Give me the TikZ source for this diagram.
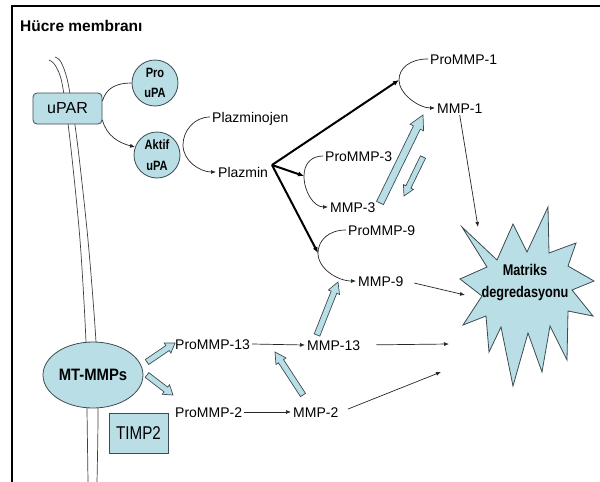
\documentclass[tikz,border=0pt]{standalone}
\usepackage{fontspec}
\setmainfont{Liberation Sans}
\newfontfamily\condA[FakeStretch=0.9]{Liberation Sans}
\newfontfamily\condB[FakeStretch=0.82]{Liberation Sans}
\usetikzlibrary{arrows.meta,calc,shapes.geometric}
\definecolor{lb}{RGB}{185,222,230}
\definecolor{edgec}{RGB}{60,76,82}
\tikzset{
  lbl/.style={font=\fontsize{14}{16}\selectfont, inner sep=2pt, text height=10pt, text depth=0pt, anchor=base west},
  box/.style={draw=edgec, fill=lb, line width=0.8pt, inner sep=0pt},
  circ/.style={circle, draw=edgec, fill=lb, line width=0.8pt, minimum size=46pt, inner sep=0pt, align=center},
  thinline/.style={line width=0.7pt, black!85},
  thinarrow/.style={line width=0.7pt, black!85, -{Latex[length=5pt,width=4pt]}},
  thickarrow/.style={line width=2pt, black, -{Latex[length=6pt,width=5pt]}},
  barrow/.style={fill=lb, draw=edgec, line width=0.7pt, line join=miter},
  memb/.style={line width=0.7pt, black!75},
}
\newcommand\blkarrow[5]{%
  \coordinate (bh) at ($(#2)!#5!(#1)$);
  \filldraw[barrow] ($(#1)!#3!90:(#2)$) -- ($(bh)!#3!90:(#2)$) -- ($(bh)!#4!90:(#2)$) -- (#2) -- ($(bh)!#4!-90:(#2)$) -- ($(bh)!#3!-90:(#2)$) -- ($(#1)!#3!-90:(#2)$) -- cycle;}
\begin{document}
\begin{tikzpicture}[x=1pt,y=-1pt]
\useasboundingbox (0,0) rectangle (600,482);
\fill[white] (0,0) rectangle (600,482);
% frame
\draw[line width=2.4pt] (12,482) -- (12,6) -- (600,6);
% membrane
\draw[memb] plot[smooth] coordinates {(49,60) (55,65) (62,83) (70,140) (80,240) (86,342) (87,410) (88,482)};
\draw[memb] plot[smooth] coordinates {(55,57) (61,62) (68,83) (77,140) (88,240) (96,342) (98,410) (97,482)};
% title
\node[anchor=base west, font=\bfseries\fontsize{15.5}{17}\selectfont, inner sep=0pt] (title) at (20,31) {Hücre membranı};
% nodes
\node[box, rounded corners=4pt, minimum width=69pt, minimum height=31pt, font=\fontsize{16}{18}\selectfont] (upar) at (67.5,108.5) {uPAR};
\node[circ, font=\condB\bfseries\fontsize{13.5}{20}\selectfont] (proupa) at (155,83) {Pro\\uPA};
\node[circ, font=\condB\bfseries\fontsize{13.5}{21}\selectfont] (aktif) at (157,155) {Aktif\\uPA};
\node[ellipse, draw=edgec, fill=lb, line width=0.8pt, minimum width=100pt, minimum height=66pt, inner sep=0pt, font=\condA\bfseries\fontsize{16.5}{18}\selectfont] (mt) at (93,375) {MT-MMPs};
\node[box, minimum width=59pt, minimum height=40pt, font=\condB\fontsize{18.5}{20}\selectfont] (timp) at (138.5,433) {TIMP2};
% labels
\node[lbl] (plg) at (210,122) {Plazminojen};
\node[lbl] (plz) at (216,177) {Plazmin};
\node[lbl] (p1) at (428,64) {ProMMP-1};
\node[lbl] (m1) at (435,113) {MMP-1};
\node[lbl] (p3) at (323,161) {ProMMP-3};
\node[lbl] (m3) at (328,212) {MMP-3};
\node[lbl] (p9) at (346,235) {ProMMP-9};
\node[lbl] (m9) at (356,286) {MMP-9};
\node[lbl] (p13) at (173,349) {ProMMP-13};
\node[lbl] (m13) at (305,350) {MMP-13};
\node[lbl] (p2) at (173,417) {ProMMP-2};
\node[lbl] (m2) at (291,417) {MMP-2};
% star
\draw[fill=lb, draw=edgec, line width=0.8pt, line join=miter]
  (462,227) -- (497,260) -- (513,224) -- (527,252) -- (548,207) -- (549,253)
  -- (576,243) -- (568,266) -- (594,281) -- (572,290) -- (593,316) -- (568,311)
  -- (567,360) -- (550,326) -- (542,372) -- (528,333) -- (513,386) -- (501,327)
  -- (489,352) -- (486,316) -- (463,325) -- (482,296) -- (460,279) -- (487,267) -- cycle;
\node[align=center, inner sep=0pt, font=\condB\bfseries\fontsize{15.5}{22}\selectfont] (star) at (525,283) {Matriks\\degredasyonu};
% coordinates
\coordinate (av) at (183,145);
\coordinate (v1) at (399,80);
\coordinate (v3) at (304,176);
\coordinate (v9) at (318,253);
\coordinate (pzo) at (272,165);
\coordinate (s1) at (478,227);
\coordinate (s9) at (465,295);
\coordinate (s13) at (449,344);
\coordinate (s2) at (441,372);
% curves
\draw[thinline] (upar.12) .. controls +(4,-14) and +(-14,0) .. (proupa.west);
\draw[thinarrow] (upar.-18) .. controls +(4,16) and +(-16,-4) .. (aktif.160);
\draw[thinarrow] (plg.west) .. controls +(-16,0) and +(0,-14) .. (av) .. controls +(0,16) and +(-16,0) .. (plz.west);
\draw[thinarrow] (p1.west) .. controls +(-18,0) and +(0,-12) .. (v1) .. controls +(0,14) and +(-16,0) .. (m1.west);
\draw[thinarrow] (p3.west) .. controls +(-12,0) and +(0,-12) .. (v3) .. controls +(0,16) and +(-14,0) .. (m3.west);
\draw[thinarrow] (p9.west) .. controls +(-18,0) and +(0,-12) .. (v9) .. controls +(0,16) and +(-18,0) .. (m9.west);
% thick arrows
\draw[thickarrow] (pzo) -- (v1);
\draw[thickarrow] (pzo) -- (v3);
\draw[thickarrow] (pzo) -- (v9);
% straight arrows
\draw[thinarrow] (p13.east) -- (m13.west);
\draw[thinarrow] (p2.east) -- (m2.west);
\draw[thinarrow] (m1.south) -- (s1);
\draw[thinarrow, shorten <=9pt] (m9.east) -- (s9);
\draw[thinarrow, shorten <=14pt] (m13.east) -- (s13);
\draw[thinarrow, shorten <=8pt] (m2.east) -- (s2);
% block arrows
\coordinate (b1s) at (380,203); \coordinate (b1e) at (423,115);
\coordinate (b2s) at (423,157); \coordinate (b2e) at (404,196);
\coordinate (b3s) at (317,335); \coordinate (b3e) at (338,282);
\coordinate (b4s) at (303,395); \coordinate (b4e) at (275,352);
\coordinate (b5s) at (147,362); \coordinate (b5e) at (175,343);
\coordinate (b6s) at (147,375); \coordinate (b6e) at (173,395);
\blkarrow{b1s}{b1e}{3.8pt}{7.5pt}{14pt}
\blkarrow{b2s}{b2e}{2.8pt}{5.5pt}{10pt}
\blkarrow{b3s}{b3e}{3pt}{6pt}{11pt}
\blkarrow{b4s}{b4e}{3pt}{6pt}{11pt}
\blkarrow{b5s}{b5e}{3pt}{6pt}{9pt}
\blkarrow{b6s}{b6e}{3pt}{6pt}{9pt}
\end{tikzpicture}
\end{document}
